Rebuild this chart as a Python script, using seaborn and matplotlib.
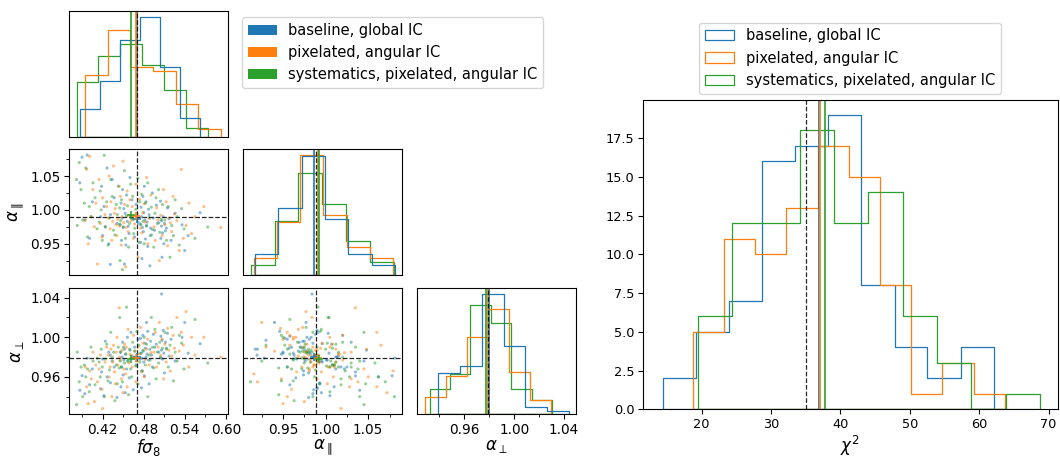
import numpy as np
import pandas as pd
import matplotlib
matplotlib.use("Agg")
import matplotlib.pyplot as plt
from matplotlib.patches import Patch
from matplotlib.ticker import MultipleLocator, FormatStrFormatter, NullLocator
import seaborn as sns

# ---------------------------------------------------------------- data
runs = ["baseline, global IC", "pixelated, angular IC",
        "systematics, pixelated, angular IC"]

# best-fit parameters of the 84 mocks, one list per run
fs8_base = [0.3868, 0.3900, 0.3940, 0.3975, 0.4010, 0.4050,
            0.4312, 0.4170, 0.4185, 0.4200, 0.4220, 0.4240, 0.4265, 0.4290, 0.4315, 0.4340, 0.4370, 0.4410,
            0.4460, 0.4468, 0.4476, 0.4484, 0.4492, 0.4500, 0.4510, 0.4520, 0.4530, 0.4540, 0.4550, 0.4562,
            0.4575, 0.4588, 0.4600, 0.4615, 0.4630, 0.4648, 0.4668, 0.4690, 0.4720,
            0.4750, 0.4756, 0.4762, 0.4768, 0.4775, 0.4782, 0.4789, 0.4796, 0.4803, 0.4810, 0.4818, 0.4826,
            0.4834, 0.4842, 0.4851, 0.4860, 0.4870, 0.4880, 0.4891, 0.4902, 0.4914, 0.4927, 0.4942, 0.4960,
            0.4985, 0.5020,
            0.5045, 0.5052, 0.5060, 0.5068, 0.5076, 0.5062, 0.5085, 0.5095, 0.5105, 0.5118, 0.5132, 0.5148,
            0.5170, 0.5200, 0.5260,
            0.5360, 0.5400, 0.5450, 0.5625]
apar_base = [1.040, 1.078, 0.985, 1.0812, 0.958, 1.012,
             0.9195, 0.990, 1.035, 0.962, 1.005, 0.975, 1.062, 0.950, 0.993, 1.045, 1.018, 0.980,
             0.978, 1.010, 0.955, 0.988, 1.030, 0.974, 1.002, 0.920, 0.995, 0.948, 1.022, 0.983,
             0.976, 0.965, 1.048, 0.991, 1.015, 0.986, 0.960, 1.008, 0.981,
             0.979, 0.952, 1.004, 0.990, 0.928, 0.974, 1.020, 0.968, 0.996, 1.035, 0.985, 0.957,
             1.012, 0.977, 0.982, 0.946, 1.001, 0.993, 0.9173, 0.973, 0.963, 1.025, 0.988, 0.970,
             1.007, 0.981,
             1.013, 0.958, 0.976, 0.930, 0.966, 0.984, 0.990, 0.950, 0.980, 0.969, 0.973, 1.003,
             0.987, 0.955, 0.995,
             0.978, 0.940, 0.962, 0.996]
aperp_base = [0.9465, 0.9612, 0.9430, 0.9790, 0.9520, 0.9680,
              0.982, 0.948, 0.965, 0.978, 0.941, 0.996, 0.960, 0.985, 0.954, 0.976, 0.970, 0.9392,
              0.985, 0.950, 0.970, 0.980, 0.995, 0.962, 0.977, 0.988, 0.944, 0.983, 0.968, 1.000,
              0.976, 0.959, 0.987, 1.005, 0.981, 0.947, 0.990, 0.972, 0.998,
              0.978, 0.999, 0.984, 0.949, 0.979, 0.966, 1.002, 0.986, 0.975, 0.961, 0.994, 0.989,
              0.980, 1.015, 0.983, 1.006, 0.977, 0.953, 0.988, 0.996, 0.982, 0.970, 1.003, 0.990,
              0.993, 0.985,
              0.980, 1.001, 0.987, 0.997, 0.978, 1.0437, 1.007, 0.984, 0.964, 0.995, 0.989, 1.004,
              0.981, 0.998, 0.976,
              1.000, 1.015, 0.984, 0.9935]

fs8_pix = [0.3946, 0.3968, 0.3990, 0.4012, 0.4035, 0.4058, 0.4080, 0.4102, 0.4125, 0.4148, 0.4170,
           0.4192, 0.4200, 0.4235, 0.4258,
           0.4285, 0.4297, 0.4310, 0.4322, 0.4335, 0.4348, 0.4360, 0.4372, 0.4385, 0.4398, 0.4410,
           0.4423, 0.4443, 0.4448, 0.4460, 0.4473, 0.4485, 0.4498, 0.4510, 0.4522, 0.4537, 0.4548,
           0.4560, 0.4573, 0.4585, 0.4598,
           0.4615, 0.4632, 0.4650, 0.4668, 0.4685, 0.4702, 0.4720, 0.4738, 0.4755, 0.4772, 0.4790,
           0.4808, 0.4825, 0.4842, 0.4860, 0.4880, 0.4905,
           0.4950, 0.4970, 0.4990, 0.5010, 0.5030, 0.5050, 0.5070, 0.5090, 0.5110, 0.5130, 0.5150,
           0.5170, 0.5190, 0.5210, 0.5230, 0.5250,
           0.5285, 0.5320, 0.5350, 0.5380, 0.5420, 0.5460, 0.5500, 0.5550,
           0.5680, 0.5927]
apar_pix = [0.985, 1.060, 0.950, 1.0792, 0.990, 1.030, 0.975, 1.010, 0.920, 1.045, 0.980, 0.960,
            1.018, 0.993, 1.005,
            0.988, 1.050, 0.972, 1.012, 0.955, 0.983, 1.065, 0.995, 1.002, 0.978, 0.962, 0.986,
            1.035, 0.976, 1.020, 0.948, 0.990, 1.072, 0.981, 1.008, 0.9157, 0.974, 1.028, 0.968,
            0.992, 1.015,
            0.984, 1.005, 0.958, 0.979, 1.038, 0.990, 0.930, 1.016, 0.973, 0.966, 0.996, 1.009,
            0.982, 1.048, 0.950, 0.987, 1.022,
            0.975, 0.955, 1.003, 0.985, 0.925, 0.992, 0.962, 1.030, 0.978, 1.012, 0.947, 0.988,
            0.981, 0.968, 1.020, 0.994,
            0.984, 0.940, 1.060, 0.958, 0.977, 1.010, 0.965, 0.990,
            1.005, 0.974]
aperp_pix = [0.970, 0.950, 0.933, 0.966, 0.958, 0.985, 0.935, 0.972, 0.955, 0.968, 0.982, 0.9475,
             0.928, 0.975, 0.990,
             0.982, 0.960, 0.970, 0.988, 0.940, 0.975, 0.992, 0.965, 0.953, 0.985, 1.000, 0.972,
             1.0298, 0.980, 0.977, 0.958, 0.987, 0.944, 0.968, 0.993, 0.963, 0.990, 0.950, 1.008,
             0.974, 0.983,
             0.981, 0.970, 1.002, 0.986, 0.955, 0.976, 0.990, 0.983, 1.010, 0.965, 0.994, 0.960,
             0.9775, 0.988, 0.998, 0.972, 0.9845,
             0.985, 1.005, 0.970, 0.990, 1.015, 0.982, 0.998, 0.958, 0.993, 0.975, 1.009, 0.987,
             0.966, 0.981, 1.002, 0.989,
             1.020, 0.986, 1.005, 0.992, 1.026, 0.970, 1.000, 0.982,
             1.000, 0.980]

fs8_sys = [0.3819, 0.3830, 0.3860, 0.3885, 0.3910, 0.3935, 0.3955, 0.3980, 0.4005, 0.4030, 0.4060,
           0.4090, 0.4120,
           0.4150, 0.4165, 0.4180, 0.4195, 0.4224, 0.4240, 0.4260, 0.4280, 0.4300, 0.4320, 0.4340,
           0.4360, 0.4380, 0.4400, 0.4415, 0.4430, 0.4445, 0.4450, 0.4455,
           0.4465, 0.4478, 0.4490, 0.4505, 0.4520, 0.4535, 0.4550, 0.4565, 0.4580, 0.4595, 0.4610,
           0.4625, 0.4640, 0.4655, 0.4670, 0.4685, 0.4700, 0.4715, 0.4730, 0.4745, 0.4760, 0.4772,
           0.4790, 0.4808, 0.4825, 0.4842, 0.4860, 0.4878, 0.4895, 0.4912, 0.4930, 0.4948, 0.4965,
           0.4982, 0.5000, 0.5018, 0.5035, 0.5055, 0.5075,
           0.5110, 0.5135, 0.5160, 0.5185, 0.5210, 0.5235, 0.5260, 0.5290, 0.5320, 0.5355, 0.5390,
           0.5550, 0.5737]
apar_sys = [1.045, 0.977, 1.070, 1.030, 0.985, 1.010, 1.062, 0.960, 1.005, 0.990, 1.040, 1.018, 0.972,
            0.982, 1.028, 1.000, 0.955, 1.0808, 0.975, 1.012, 0.948, 0.988, 1.045, 1.020, 0.970,
            0.963, 1.008, 0.993, 1.035, 0.979, 1.003, 0.925,
            0.984, 1.015, 0.9118, 0.975, 1.058, 0.958, 0.991, 1.006, 0.945, 0.980, 1.038, 0.987,
            1.020, 0.965, 0.973, 1.001, 0.994, 1.047, 0.952, 1.012, 0.978, 1.023,
            0.983, 0.950, 1.010, 0.976, 1.040, 0.989, 0.962, 1.004, 0.971, 0.945, 0.995, 1.018,
            0.980, 1.030, 0.967, 0.986, 1.008,
            0.985, 0.955, 1.005, 0.930, 0.977, 0.962, 1.015, 0.990, 0.948, 1.002, 0.972,
            0.958, 0.9748]
aperp_sys = [0.932, 0.985, 0.955, 0.970, 0.940, 0.972, 0.960, 0.968, 0.945, 0.990, 0.976, 0.952, 0.979,
             0.975, 0.960, 0.988, 0.970, 0.940, 0.978, 0.993, 0.956, 0.967, 1.005, 0.980, 0.985,
             0.936, 0.972, 0.953, 0.990, 0.969, 1.020, 0.976,
             0.985, 0.970, 0.955, 0.990, 0.974, 0.983, 1.0304, 0.976, 0.942, 0.988, 0.968, 0.960,
             0.995, 0.979, 0.986, 0.971, 1.006, 0.953, 0.992, 0.975, 0.984, 0.966,
             0.987, 1.000, 0.972, 0.993, 0.940, 0.982, 0.977, 1.020, 0.990, 0.969, 1.008, 0.958,
             0.985, 0.974, 0.995, 0.979, 0.989,
             1.005, 0.988, 0.970, 0.992, 1.010, 0.956, 0.985, 0.976, 1.002, 0.994, 0.968,
             1.018, 0.974]

# fiducial values
truth = {"fs8": 0.470, "apar": 0.989, "aperp": 0.979}

# chi^2 distributions (bin edges and counts per run)
chi2_edges_base = [14.4, 19.2, 23.9, 28.7, 33.5, 38.2, 43.0, 47.8, 52.5, 57.3, 62.1]
chi2_counts_base = [2, 5, 7, 16, 17, 19, 8, 4, 2, 4]
chi2_edges_pix = [18.7, 23.2, 27.7, 32.2, 36.7, 41.2, 45.7, 50.2, 54.7, 59.2, 63.7]
chi2_counts_pix = [5, 11, 10, 13, 17, 15, 8, 1, 3, 1]
chi2_edges_sys = [19.4, 24.3, 29.2, 34.2, 39.1, 44.0, 49.0, 53.9, 58.8, 63.8, 68.7]
chi2_counts_sys = [6, 12, 12, 18, 12, 14, 6, 3, 0, 1]
chi2_mean = [36.9, 37.1, 37.75]
chi2_ndof = 35.0

# ---------------------------------------------------------------- frame
df = pd.concat([
    pd.DataFrame({"fs8": fs8_base, "apar": apar_base, "aperp": aperp_base, "run": runs[0]}),
    pd.DataFrame({"fs8": fs8_pix, "apar": apar_pix, "aperp": aperp_pix, "run": runs[1]}),
    pd.DataFrame({"fs8": fs8_sys, "apar": apar_sys, "aperp": aperp_sys, "run": runs[2]}),
], ignore_index=True)

colors = sns.color_palette("tab10", 3)
params = ["fs8", "apar", "aperp"]
labels = {"fs8": r"$f\sigma_8$", "apar": r"$\alpha_\parallel$", "aperp": r"$\alpha_\perp$"}
major = {"fs8": 0.06, "apar": 0.05, "aperp": 0.04}

plt.rcParams.update({
    "axes.linewidth": 0.8,
    "xtick.labelsize": 9.8,
    "ytick.labelsize": 9.8,
    "xtick.major.pad": 2.5,
    "ytick.major.pad": 2.5,
    "axes.labelsize": 12,
    "axes.labelpad": 1.5,
    "xtick.major.width": 0.8,
    "ytick.major.width": 0.8,
})

limits = {}
for p in params:
    lo, hi = df[p].min(), df[p].max()
    pad = 0.05 * (hi - lo)
    limits[p] = (lo - pad, hi + pad)

fig = plt.figure(figsize=(10.6, 4.57), dpi=100)

W, H = 1060.0, 457.0
col_left = [69.3, 243.3, 417.3]
row_top = [10.7, 149.3, 288.3]
pw, ph = 158.7, 126.0

ax_grid = {}
for i in range(3):
    for j in range(i + 1):
        ax = fig.add_axes([col_left[j] / W, 1 - (row_top[i] + ph) / H, pw / W, ph / H])
        ax_grid[(i, j)] = ax
        px, py = params[j], params[i]
        if i == j:
            sns.histplot(data=df, x=px, hue="run", hue_order=runs, palette=colors,
                         bins=6, stat="density", common_bins=False, common_norm=False,
                         element="step", fill=True, alpha=0, linewidth=0.9,
                         legend=False, ax=ax)
            for k, r in enumerate(runs):
                ax.axvline(df.loc[df.run == r, px].mean(), color=colors[k], lw=1.2)
            ax.axvline(truth[px], color="k", ls="--", lw=0.9, alpha=0.85)
            ax.set_ylim(bottom=0)
            ax.yaxis.set_major_locator(NullLocator())
            ax.yaxis.set_minor_locator(NullLocator())
        else:
            sns.scatterplot(data=df, x=px, y=py, hue="run", hue_order=runs, palette=colors,
                            s=5, linewidth=0, alpha=0.5, legend=False, ax=ax)
            ax.axvline(truth[px], color="k", ls="--", lw=0.9, alpha=0.85)
            ax.axhline(truth[py], color="k", ls="--", lw=0.9, alpha=0.85)
            for k, r in enumerate(runs):
                sub = df[df.run == r]
                ax.plot(sub[px].mean(), sub[py].mean(), "+", color=colors[k], ms=6, mew=1.1)
            ax.set_ylim(*limits[py])
            ax.yaxis.set_major_locator(MultipleLocator(major[py]))
            ax.yaxis.set_minor_locator(MultipleLocator(major[py] / 2))
            ax.yaxis.set_major_formatter(FormatStrFormatter("%.2f"))
            if j > 0:
                ax.tick_params(axis="y", which="both", left=False, labelleft=False)
        ax.set_xlim(*limits[px])
        ax.xaxis.set_major_locator(MultipleLocator(major[px]))
        ax.xaxis.set_minor_locator(MultipleLocator(major[px] / 2))
        ax.xaxis.set_major_formatter(FormatStrFormatter("%.2f"))
        if i < 2:
            ax.tick_params(axis="x", which="both", bottom=False, labelbottom=False)
        ax.set_xlabel("")
        ax.set_ylabel("")

ax_grid[(2, 0)].set_xlabel(labels["fs8"], labelpad=0)
ax_grid[(2, 1)].set_xlabel(labels["apar"], labelpad=0.5)
ax_grid[(2, 2)].set_xlabel(labels["aperp"], labelpad=0.5)
ax_grid[(1, 0)].set_ylabel(labels["apar"], labelpad=3)
ax_grid[(2, 0)].set_ylabel(labels["aperp"], labelpad=3)

fig.legend(handles=[Patch(facecolor=c, label=r) for c, r in zip(colors, runs)],
           loc="upper left", bbox_to_anchor=(241.7 / W, 1 - 17 / H), borderaxespad=0,
           fontsize=10.5)

# ---------------------------------------------------------------- chi^2 panel
axc = fig.add_axes([642.7 / W, 1 - 409.3 / H, 415.0 / W, 309.3 / H])
chi2_sets = [(chi2_edges_base, chi2_counts_base), (chi2_edges_pix, chi2_counts_pix),
             (chi2_edges_sys, chi2_counts_sys)]
for k, (edges, counts) in enumerate(chi2_sets):
    e = np.asarray(edges, dtype=float)
    hist_df = pd.DataFrame({"chi2": 0.5 * (e[:-1] + e[1:]), "n": counts})
    sns.histplot(data=hist_df, x="chi2", weights="n", bins=list(edges), element="step",
                 fill=True, alpha=0, color=colors[k], linewidth=0.9, ax=axc)
for k in range(3):
    axc.axvline(chi2_mean[k], color=colors[k], lw=1.2)
axc.axvline(chi2_ndof, color="k", ls="--", lw=0.9, alpha=0.85)
axc.set_xlim(11.5, 71.3)
axc.set_ylim(bottom=0)
axc.set_ylabel("")
axc.set_xlabel(r"$\chi^2$", labelpad=2.5)
axc.tick_params(axis="both", labelsize=9.3)
axc.legend(handles=[Patch(facecolor="none", edgecolor=c, lw=0.9, label=r)
                    for c, r in zip(colors, runs)],
           loc="lower center", bbox_to_anchor=(0.5, 1.02), borderaxespad=0, fontsize=10.5)

fig.savefig("out.png", dpi=100)
